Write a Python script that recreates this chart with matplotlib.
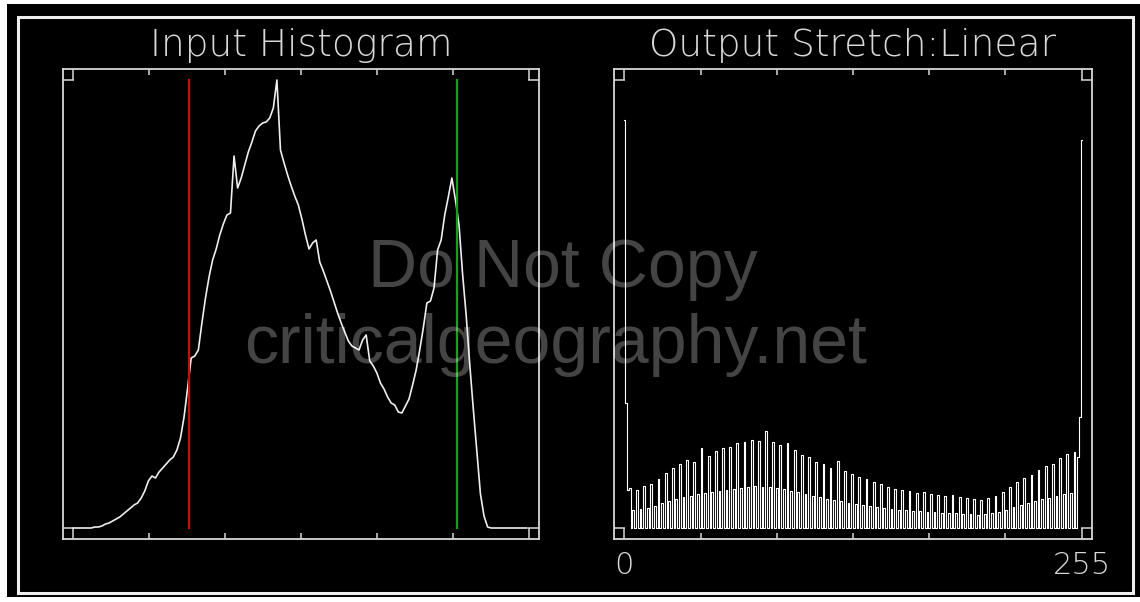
import numpy as np
import matplotlib.pyplot as plt
from matplotlib.patches import Rectangle

# input histogram, one sample every second grey level (0, 2, ..., 254)
input_levels = np.arange(0, 256, 2)
input_counts = [
    0, 0, 0, 0, 0, 0, 1, 1, 2, 4, 5, 7, 9, 11, 14, 17,
    20, 23, 25, 30, 37, 47, 52, 50, 56, 60, 64, 68, 71, 78, 90, 111,
    140, 170, 172, 178, 205, 230, 251, 268, 279, 293, 304, 313, 315, 372, 340, 350,
    363, 376, 386, 397, 402, 405, 406, 410, 420, 448, 378, 365, 353, 342, 332, 323,
    309, 293, 279, 285, 288, 266, 257, 247, 237, 226, 215, 205, 196, 187, 182, 180,
    178, 188, 193, 167, 162, 155, 145, 139, 131, 125, 123, 116, 115, 122, 129, 143,
    158, 178, 200, 225, 227, 240, 278, 288, 313, 331, 350, 328, 303, 254, 213, 164,
    119, 76, 34, 12, 1, 0, 0, 0, 0, 0, 0, 0, 0, 0, 0, 0,
]

# histogram after the linear stretch, one value per output level 0..255
output_levels = np.arange(256)
output_counts = [
    408, 125, 38, 40, 0, 18, 0, 38, 0, 19, 0, 42, 0, 20, 0, 44,
    0, 22, 0, 49, 0, 25, 0, 55, 0, 27, 0, 60, 0, 29, 0, 64,
    0, 31, 0, 68, 0, 32, 0, 66, 0, 34, 0, 80, 0, 35, 0, 72,
    0, 36, 0, 77, 0, 37, 0, 80, 0, 38, 0, 81, 0, 39, 0, 85,
    0, 40, 0, 86, 0, 41, 0, 88, 0, 42, 0, 87, 0, 41, 0, 97,
    0, 41, 0, 86, 0, 40, 0, 83, 0, 39, 0, 85, 0, 37, 0, 78,
    0, 36, 0, 73, 0, 34, 0, 71, 0, 32, 0, 66, 0, 31, 0, 64,
    0, 29, 0, 60, 0, 28, 0, 67, 0, 27, 0, 57, 0, 25, 0, 54,
    0, 24, 0, 51, 0, 23, 0, 49, 0, 22, 0, 46, 0, 21, 0, 44,
    0, 20, 0, 41, 0, 19, 0, 39, 0, 18, 0, 38, 0, 18, 0, 37,
    0, 17, 0, 35, 0, 17, 0, 36, 0, 16, 0, 34, 0, 16, 0, 33,
    0, 15, 0, 32, 0, 15, 0, 33, 0, 15, 0, 31, 0, 14, 0, 30,
    0, 14, 0, 29, 0, 13, 0, 28, 0, 14, 0, 30, 0, 15, 0, 32,
    0, 16, 0, 36, 0, 18, 0, 41, 0, 21, 0, 46, 0, 23, 0, 50,
    0, 25, 0, 53, 0, 27, 0, 58, 0, 29, 0, 62, 0, 30, 0, 64,
    0, 32, 0, 70, 0, 34, 0, 74, 0, 35, 0, 76, 0, 71, 111, 388,
]

# stretch limits (red = min, green = max) and top of the count axis
stretch_min = 65
stretch_max = 215
count_top = 448

tick_levels = np.linspace(0, 255, 7)
output_tick_labels = ['0', '255']

W, H = 1140, 602
grey = '#d8d8d8'
label_font = dict(family=['DejaVu Sans'], weight='ultralight', color=grey)


def style_axes(ax, labels=None):
    ax.set_facecolor('black')
    ax.set_xlim(-5.8, 260.8)
    ax.set_ylim(-11, count_top + 11)
    for s in ax.spines.values():
        s.set_color(grey)
        s.set_linewidth(1.3)
    ax.set_xticks([0, 255])
    ax.set_xticks(tick_levels[1:-1], minor=True)
    ax.set_yticks([0, count_top])
    ax.tick_params(which='both', direction='in', top=True, right=True,
                   color=grey, width=1.1, labelleft=False, labelright=False)
    ax.tick_params(which='major', length=7.6)
    ax.tick_params(which='minor', length=4.6)
    if labels:
        ax.set_xticklabels(labels, fontsize=22, **label_font)
        ax.tick_params(axis='x', which='major', pad=9)
    else:
        ax.tick_params(labelbottom=False)


fig = plt.figure(figsize=(W / 100, H / 100), dpi=100, facecolor='white')

# black screen area and the white frame round both plots
fig.add_artist(Rectangle((7 / W, 5 / H), 1 - 7 / W, 1 - 9 / H, transform=fig.transFigure,
                         facecolor='black', edgecolor='none', zorder=-2))
fig.add_artist(Rectangle((18 / W, 9 / H), 1115 / W, 576 / H, transform=fig.transFigure,
                         facecolor='none', edgecolor='#eeeeee', linewidth=2.2, zorder=-1))

ax1 = fig.add_axes([63 / W, 63 / H, 476 / W, 470 / H])
ax2 = fig.add_axes([614 / W, 63 / H, 478 / W, 470 / H])

ax1.plot(input_levels, input_counts, color='#eeeeee', linewidth=1.2)
ax1.plot([stretch_min, stretch_min], [0, count_top], color='#e00000', linewidth=1.5)
ax1.plot([stretch_max, stretch_max], [0, count_top], color='#00b000', linewidth=1.5)
style_axes(ax1)

ax2.plot(output_levels, output_counts, color='white', linewidth=0.8,
         drawstyle='steps-mid')
style_axes(ax2, output_tick_labels)

fig.text(301 / W, 1 - 56 / H, 'Input Histogram', ha='center', va='baseline',
         fontsize=27, **label_font)
fig.text(853 / W, 1 - 56 / H, 'Output Stretch:Linear', ha='center', va='baseline',
         fontsize=27, **label_font)

# watermark
wm = dict(ha='center', va='baseline', fontsize=49, family='Liberation Sans',
          color='white', alpha=0.27, zorder=10)
fig.text(563 / W, 1 - 287 / H, 'Do Not Copy', **wm)
fig.text(556 / W, 1 - 363 / H, 'criticalgeography.net', **wm)

fig.savefig('out.png', dpi=100, facecolor=fig.get_facecolor())
